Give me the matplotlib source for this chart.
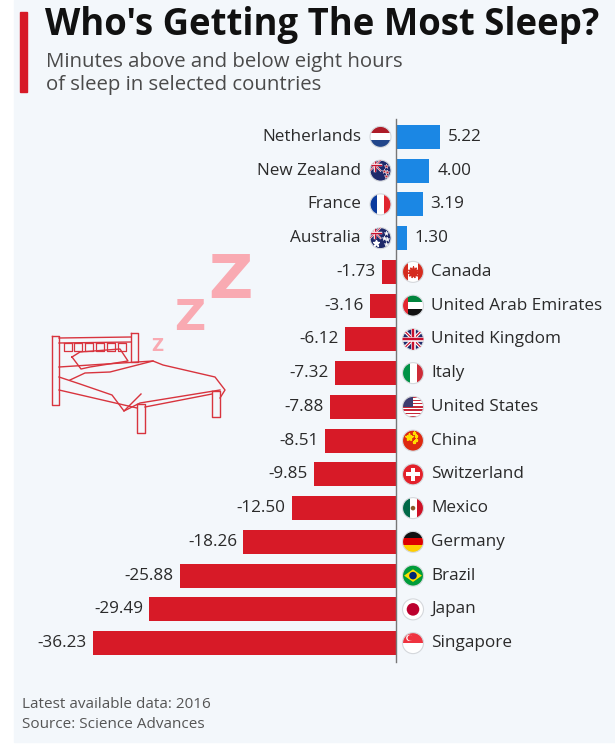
import numpy as np
import matplotlib
matplotlib.use("Agg")
import matplotlib.pyplot as plt
from matplotlib import transforms
from matplotlib.patches import Rectangle, Circle, Polygon

plt.rcParams['font.family'] = ['Open Sans', 'DejaVu Sans']

# data (minutes above / below 8 hours)
countries = ["Netherlands", "New Zealand", "France", "Australia", "Canada",
             "United Arab Emirates", "United Kingdom", "Italy", "United States",
             "China", "Switzerland", "Mexico", "Germany", "Brazil", "Japan", "Singapore"]
minutes = [5.22, 4.00, 3.19, 1.30, -1.73, -3.16, -6.12, -7.32, -7.88,
           -8.51, -9.85, -12.50, -18.26, -25.88, -29.49, -36.23]
flag_codes = ["nl", "nz", "fr", "au", "ca", "ae", "gb", "it", "us",
              "cn", "ch", "mx", "de", "br", "jp", "sg"]

title = "Who's Getting The Most Sleep?"
subtitle = ["Minutes above and below eight hours", "of sleep in selected countries"]
footer = ["Latest available data: 2016", "Source: Science Advances"]

BLUE = "#1b87e4"
RED = "#d71a27"
BG = "#f3f7fb"
W, H = 615, 744


def fpos(x, y):
    # pixel (y down) -> figure fraction
    return x / W, 1 - y / H


fig = plt.figure(figsize=(W / 100, H / 100), dpi=100)
fig.patch.set_facecolor("white")
fig.add_artist(Rectangle(fpos(14, 742), (W - 14) / W, 742 / H,
                         transform=fig.transFigure, color=BG, zorder=-10))
fig.add_artist(Rectangle(fpos(20, 92), 7 / W, 80 / H,
                         transform=fig.transFigure, color=RED, zorder=-5))

fig.text(*fpos(45, 25), title, fontsize=26.3, fontweight="bold",
         color="#111111", va="center", ha="left")
for k, line in enumerate(subtitle):
    fig.text(*fpos(46, 62 + 23 * k), line, fontsize=14.7, color="#4a4a4a",
             va="center", ha="left")
for k, line in enumerate(footer):
    fig.text(*fpos(22, 704 + 21 * k), line, fontsize=11.0, color="#555555",
             va="center", ha="left")

# main axes
top, bot = 120, 660
ax = fig.add_axes([14 / W, (H - bot) / H, (W - 14) / W, (bot - top) / H])
ax.set_facecolor("none")
ax.axis("off")
scale = 8.36
ax.set_xlim(-(396 - 14) / scale, (W - 396) / scale)
n = len(countries)
ax.set_ylim(n - 0.5, -0.5)

ypos = np.arange(n)
colors = [BLUE if v > 0 else RED for v in minutes]
ax.barh(ypos, minutes, height=0.71, color=colors, zorder=2)
ax.plot([0, 0], [-0.53, n - 0.45], color="#777777", lw=1, zorder=3, clip_on=False)


def off(dx, dy=0):
    return transforms.offset_copy(ax.transData, fig=fig, x=dx, y=dy, units="dots")


FS = 12.3
for i, (name, v) in enumerate(zip(countries, minutes)):
    if v > 0:
        ax.text(0, i, name, transform=off(-35), ha="right", va="center",
                fontsize=FS, color="#2a2a2a")
        ax.text(v, i, f"{v:.2f}", transform=off(8), ha="left", va="center",
                fontsize=FS, color="#2a2a2a")
    else:
        ax.text(0, i, name, transform=off(35), ha="left", va="center",
                fontsize=FS, color="#2a2a2a")
        ax.text(v, i, f"{v:.2f}", transform=off(-6), ha="right", va="center",
                fontsize=FS, color="#2a2a2a")

# overlay in display pixels for flags and drawing
ov = fig.add_axes([0, 0, 1, 1])
ov.set_xlim(0, W)
ov.set_ylim(0, H)
ov.axis("off")
ov.set_facecolor("none")


def hstripes(cx, cy, r, cols, clip):
    k = len(cols)
    h = 2 * r / k
    for j, c in enumerate(cols):
        p = Rectangle((cx - r, cy + r - (j + 1) * h), 2 * r, h, color=c, lw=0)
        ov.add_patch(p)
        p.set_clip_path(clip)


def vstripes(cx, cy, r, cols, clip, widths=None):
    widths = widths or [1] * len(cols)
    tot = sum(widths)
    x0 = cx - r
    for c, w in zip(cols, widths):
        ww = 2 * r * w / tot
        p = Rectangle((x0, cy - r), ww, 2 * r, color=c, lw=0)
        ov.add_patch(p)
        p.set_clip_path(clip)
        x0 += ww


def add(p, clip):
    ov.add_patch(p)
    p.set_clip_path(clip)
    return p


def union_jack(x0, y0, x1, y1, clip, lw=1.0):
    add(Rectangle((x0, y0), x1 - x0, y1 - y0, color="#1f2a6b", lw=0), clip)
    for a, b in [((x0, y0), (x1, y1)), ((x0, y1), (x1, y0))]:
        l, = ov.plot([a[0], b[0]], [a[1], b[1]], color="white", lw=2.2 * lw)
        l.set_clip_path(clip)
        l, = ov.plot([a[0], b[0]], [a[1], b[1]], color="#c8102e", lw=0.8 * lw)
        l.set_clip_path(clip)
    mx, my = (x0 + x1) / 2, (y0 + y1) / 2
    for xs, ys in [([mx, mx], [y0, y1]), ([x0, x1], [my, my])]:
        l, = ov.plot(xs, ys, color="white", lw=3 * lw)
        l.set_clip_path(clip)
        l, = ov.plot(xs, ys, color="#c8102e", lw=1.6 * lw)
        l.set_clip_path(clip)


def draw_flag(cx, cy, code, r=10.5):
    clip = Circle((cx, cy), r, transform=ov.transData)
    if code == "nl":
        hstripes(cx, cy, r, ["#ae1c28", "white", "#21468b"], clip)
    elif code == "fr":
        vstripes(cx, cy, r, ["#0a3a9e", "white", "#e1252f"], clip)
    elif code in ("nz", "au"):
        add(Rectangle((cx - r, cy - r), 2 * r, 2 * r, color="#1f2a6b", lw=0), clip)
        union_jack(cx - r, cy, cx, cy + r, clip, lw=0.6)
        sc = "#d2232f" if code == "nz" else "white"
        for sx, sy in [(0.5, 0.45), (0.3, 0.0), (0.65, -0.1), (0.5, -0.55)]:
            m, = ov.plot(cx + sx * r, cy + sy * r, marker="*", ms=3.5,
                         color=sc, mec="white", mew=0.3)
            m.set_clip_path(clip)
        if code == "au":
            m, = ov.plot(cx - 0.45 * r, cy - 0.5 * r, marker="*", ms=5, color="white")
            m.set_clip_path(clip)
    elif code == "ca":
        vstripes(cx, cy, r, ["#d52b1e", "white", "#d52b1e"], clip, [1, 2, 1])
        m, = ov.plot(cx, cy, marker=(11, 1, 0), ms=8, color="#d52b1e")
        m.set_clip_path(clip)
    elif code == "ae":
        hstripes(cx, cy, r, ["#00843d", "white", "#111111"], clip)
        add(Rectangle((cx - r, cy - r), r * 0.55, 2 * r, color="#e4262f", lw=0), clip)
    elif code == "gb":
        union_jack(cx - r, cy - r, cx + r, cy + r, clip, lw=1.1)
    elif code == "it":
        vstripes(cx, cy, r, ["#009246", "white", "#ce2b37"], clip)
    elif code == "us":
        k = 13
        hstripes(cx, cy, r, ["#c8283a" if j % 2 == 0 else "white" for j in range(k)], clip)
        add(Rectangle((cx - r, cy), r * 1.0, r, color="#3c3b6e", lw=0), clip)
    elif code == "cn":
        add(Rectangle((cx - r, cy - r), 2 * r, 2 * r, color="#de2910", lw=0), clip)
        m, = ov.plot(cx - 0.4 * r, cy + 0.35 * r, marker="*", ms=6, color="#ffde00")
        m.set_clip_path(clip)
        for sx, sy in [(0.1, 0.7), (0.3, 0.45), (0.3, 0.1), (0.1, -0.1)]:
            m, = ov.plot(cx + sx * r, cy + sy * r, marker="*", ms=2.2, color="#ffde00")
            m.set_clip_path(clip)
    elif code == "ch":
        add(Rectangle((cx - r, cy - r), 2 * r, 2 * r, color="#e3212b", lw=0), clip)
        add(Rectangle((cx - 0.2 * r, cy - 0.62 * r), 0.4 * r, 1.24 * r, color="white", lw=0), clip)
        add(Rectangle((cx - 0.62 * r, cy - 0.2 * r), 1.24 * r, 0.4 * r, color="white", lw=0), clip)
    elif code == "mx":
        vstripes(cx, cy, r, ["#006847", "white", "#ce1126"], clip)
        add(Circle((cx, cy), 0.22 * r, color="#8a5a2b", lw=0), clip)
    elif code == "de":
        hstripes(cx, cy, r, ["#111111", "#dd0000", "#ffce00"], clip)
    elif code == "br":
        add(Rectangle((cx - r, cy - r), 2 * r, 2 * r, color="#009c3b", lw=0), clip)
        add(Polygon([(cx - 0.85 * r, cy), (cx, cy + 0.6 * r), (cx + 0.85 * r, cy),
                     (cx, cy - 0.6 * r)], color="#ffdf00", lw=0), clip)
        add(Circle((cx, cy), 0.36 * r, color="#002776", lw=0), clip)
    elif code == "jp":
        add(Rectangle((cx - r, cy - r), 2 * r, 2 * r, color="white", lw=0), clip)
        add(Circle((cx, cy), 0.6 * r, color="#bc002d", lw=0), clip)
    elif code == "sg":
        hstripes(cx, cy, r, ["#ef3340", "white"], clip)
        add(Circle((cx - 0.35 * r, cy + 0.5 * r), 0.3 * r, color="white", lw=0), clip)
        add(Circle((cx - 0.25 * r, cy + 0.5 * r), 0.27 * r, color="#ef3340", lw=0), clip)
    ov.add_patch(Circle((cx, cy), r, fill=False, ec="#d5d8dc", lw=0.8))


for i, (v, code) in enumerate(zip(minutes, flag_codes)):
    x0, y0 = ax.transData.transform((0, i))
    dx = -15.5 if v > 0 else 17
    draw_flag(x0 + dx, y0, code)

# bed illustration + Zzz (decoration, pixel coords with y down)
BED = "#d8343e"


def line(pts, lw=1.0):
    xs = [p[0] for p in pts]
    ys = [H - p[1] for p in pts]
    ov.plot(xs, ys, color=BED, lw=lw, solid_joinstyle="round")


def box(x0, y0, x1, y1, lw=1.0):
    line([(x0, y0), (x1, y0), (x1, y1), (x0, y1), (x0, y0)], lw)


box(52, 336, 59, 405)
box(131, 333, 138, 362)
line([(59, 338), (131, 337)])
line([(59, 343), (131, 342)])
for sx in [64, 74, 85, 96, 107, 118]:
    box(sx, 343, sx + 8, 351, 0.9)
line([(72, 357), (80, 352), (120, 349), (128, 361), (90, 367), (81, 369), (72, 357)])
line([(59, 367), (153, 361), (163, 365), (215, 377), (225, 390), (220, 398)])
line([(59, 377), (80, 384), (112, 395), (124, 411), (141, 394)])
line([(124, 411), (140, 403), (220, 390)])
line([(70, 380), (85, 373), (110, 372), (153, 361)])
line([(59, 390), (137, 408)])
line([(145, 407), (212, 394)])
box(137, 404, 145, 433)
box(212, 391, 220, 417)

for ch, x, y, fs in [("Z", 230, 281, 44), ("Z", 190, 318, 31), ("Z", 157, 346, 12)]:
    ov.text(x, H - y, ch, fontsize=fs, fontweight="bold", color="#f9aab2",
            ha="center", va="center", family="DejaVu Sans")

fig.savefig("out.png", dpi=100)
